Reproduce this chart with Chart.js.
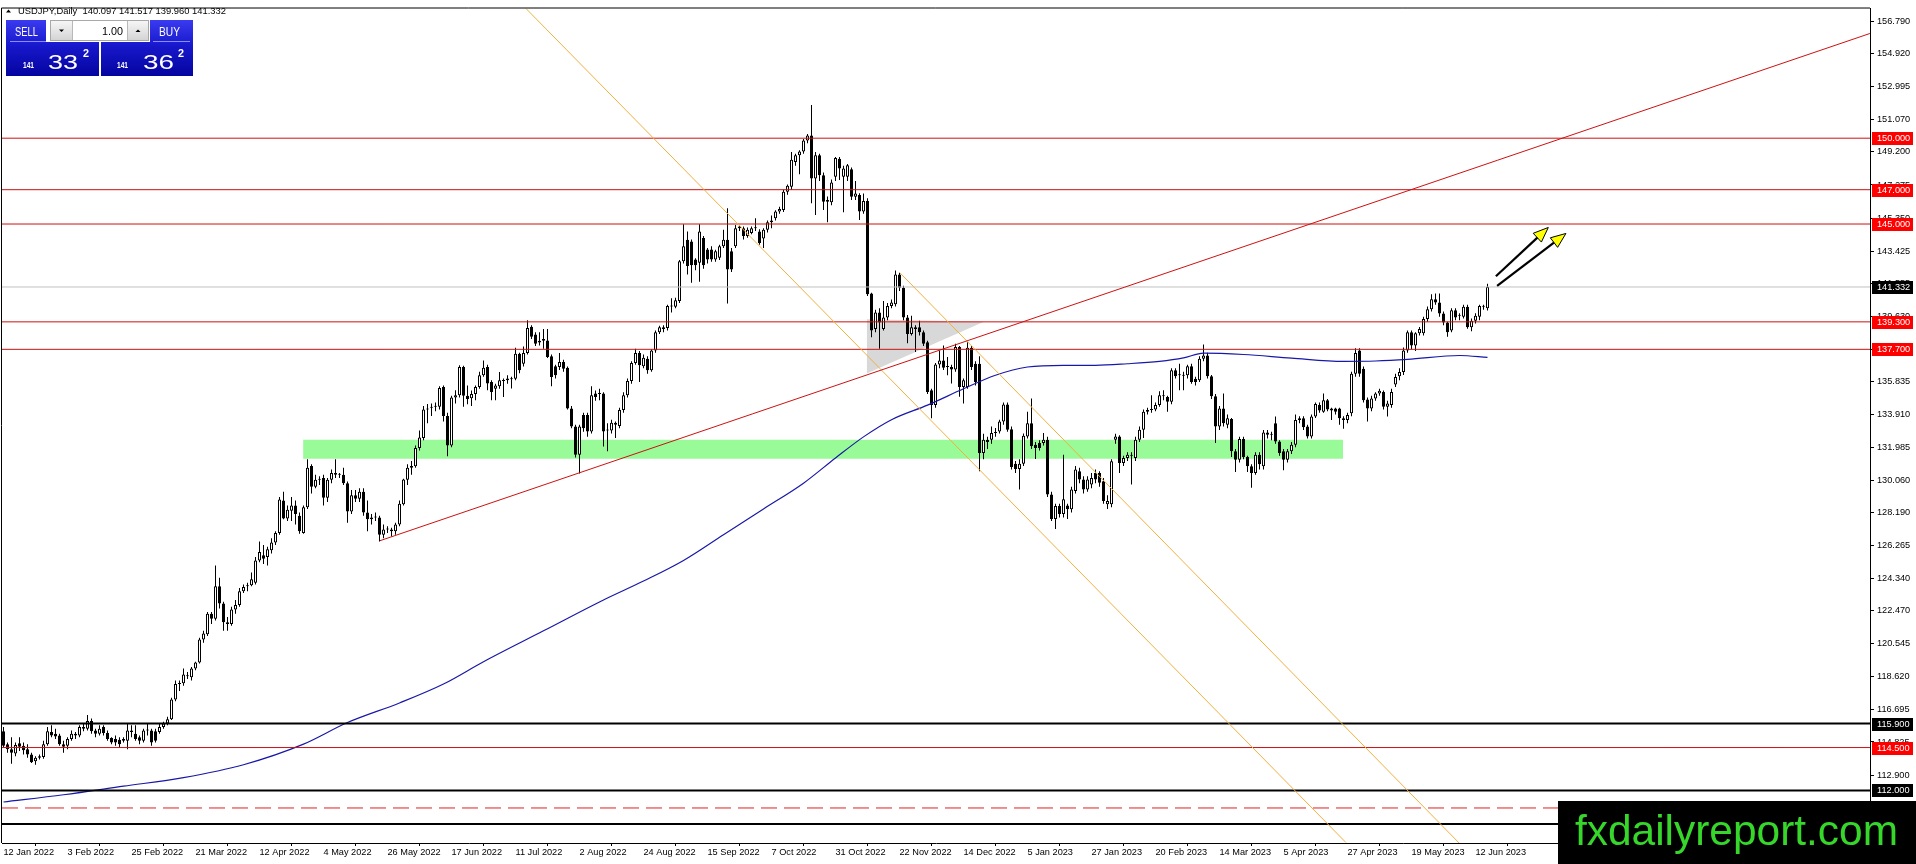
<!DOCTYPE html>
<html>
<head>
<meta charset="utf-8">
<title>USDJPY Daily</title>
<script src="https://cdn.jsdelivr.net/npm/chart.js@4.4.0/dist/chart.umd.min.js"></script>
<style>
  html, body { margin: 0; padding: 0; background: #fff; overflow: hidden; }
  #contenedor { width: 1916px; height: 864px; position: relative; }
</style>
</head>
<body>
<div id="contenedor"><canvas id="grafico"></canvas></div>
<script>
// Etiquetas del eje de tiempo (una cada 16 velas)
const etiquetasFecha = ['12 Jan 2022', '3 Feb 2022', '25 Feb 2022', '21 Mar 2022', '12 Apr 2022', '4 May 2022',
  '26 May 2022', '17 Jun 2022', '11 Jul 2022', '2 Aug 2022', '24 Aug 2022', '15 Sep 2022', '7 Oct 2022',
  '31 Oct 2022', '22 Nov 2022', '14 Dec 2022', '5 Jan 2023', '27 Jan 2023', '20 Feb 2023', '14 Mar 2023',
  '5 Apr 2023', '27 Apr 2023', '19 May 2023', '12 Jun 2023'];
const posEtiquetas = [0, 16, 32, 48, 64, 80, 96, 112, 128, 144, 160, 176, 192, 208, 224, 240, 256, 272, 288, 304, 320, 336, 352, 368];

// Ticks del eje de precios
const ticksPrecio = [156.790, 154.920, 152.995, 151.070, 149.200, 147.275, 145.350, 143.425, 141.555, 139.630,
  137.705, 135.835, 133.910, 131.985, 130.060, 128.190, 126.265, 124.340, 122.470, 120.545, 118.620, 116.695,
  114.825, 112.900, 110.975, 109.050];

// Velas diarias USDJPY
const aperturas = [
  115.45, 114.7, 114.4, 114.15, 114.75, 114.6, 114.4, 114.1, 113.7, 113.9,
  113.95, 114.7, 115.4, 115.3, 115.2, 114.7, 114.6, 115.0, 115.2, 115.2,
  115.7, 115.6, 116.05, 115.5, 115.3, 115.7, 115.35, 115.05, 115.0, 114.95,
  114.9, 114.9, 115.5, 115.3, 115.1, 114.9, 115.5, 115.5, 115.45, 115.4,
  115.7, 115.9, 116.15, 117.3, 118.2, 118.25, 118.7, 118.6, 119.1, 119.45,
  120.8, 121.1, 122.3, 122.0, 123.9, 122.9, 121.8, 121.7, 122.55, 122.8,
  123.6, 123.9, 123.95, 124.1, 125.4, 125.7, 125.6, 126.0, 126.45, 127.0,
  128.9, 127.85, 128.3, 128.6, 128.0, 127.0, 128.5, 130.9, 129.7, 130.1,
  130.2, 129.05, 130.1, 130.5, 130.4, 130.4, 129.9, 128.25, 129.2, 129.0,
  129.4, 128.2, 127.9, 127.9, 127.9, 126.9, 127.2, 127.2, 127.1, 127.5,
  128.67, 130.1, 130.8, 130.89, 131.95, 132.53, 134.2, 134.3, 134.36, 134.36,
  135.51, 133.82, 132.1, 134.9, 135.03, 136.67, 135.0, 134.85, 135.1, 135.5,
  136.19, 136.67, 135.8, 135.4, 135.55, 135.9, 135.9, 136.0, 135.99, 137.44,
  136.86, 137.48, 139.02, 138.56, 138.1, 138.2, 138.21, 137.29, 136.71, 136.67,
  136.96, 136.63, 134.26, 133.2, 131.56, 133.87, 133.87, 132.91, 135.13, 135.1,
  135.13, 132.97, 132.97, 133.43, 133.24, 134.16, 135.03, 135.86, 136.9, 137.48,
  136.71, 137.15, 136.48, 137.63, 138.69, 138.98, 138.94, 140.23, 140.18, 140.52,
  142.83, 144.09, 143.98, 142.93, 142.74, 144.18, 143.51, 143.51, 142.93, 143.03,
  143.7, 144.09, 143.41, 143.7, 144.76, 144.76, 144.3, 144.47, 144.76, 144.57,
  144.15, 144.67, 145.1, 145.34, 145.73, 145.82, 146.88, 147.17, 148.62, 149.0,
  149.23, 149.87, 150.16, 147.65, 149.0, 147.84, 146.3, 146.27, 147.75, 148.81,
  147.75, 147.75, 148.19, 146.59, 146.69, 145.73, 146.34, 140.95, 138.89, 139.85,
  138.89, 139.56, 140.23, 140.33, 142.06, 141.29, 139.56, 138.6, 138.98, 138.98,
  138.69, 138.11, 135.32, 134.45, 136.82, 137.05, 136.67, 136.67, 136.53, 137.83,
  135.51, 135.51, 137.79, 136.86, 136.86, 131.66, 132.43, 132.43, 132.82, 132.91,
  133.49, 134.49, 133.05, 131.04, 130.73, 131.04, 132.62, 133.39, 132.14, 132.24,
  132.24, 132.43, 129.25, 127.81, 128.58, 128.1, 128.6, 128.38, 129.44, 130.6,
  130.12, 129.54, 129.83, 130.5, 130.5, 130.02, 128.67, 128.67, 132.43, 132.62,
  131.08, 131.37, 131.56, 131.37, 132.43, 133.01, 134.07, 134.17, 134.2, 134.45,
  134.97, 134.93, 134.65, 136.48, 136.19, 136.19, 136.19, 136.71, 135.99, 135.9,
  137.15, 137.34, 136.13, 134.97, 133.2, 134.26, 133.3, 133.64, 131.76, 131.27,
  132.47, 131.43, 130.89, 130.5, 131.56, 130.89, 132.85, 132.72, 133.39, 132.33,
  131.76, 131.27, 131.76, 132.14, 133.59, 133.68, 133.2, 132.62, 133.78, 134.45,
  134.07, 134.74, 134.26, 134.26, 134.26, 133.68, 133.59, 133.97, 136.28, 137.63,
  136.57, 134.78, 134.26, 134.84, 135.13, 135.22, 134.36, 134.45, 135.65, 136.13,
  136.38, 137.63, 138.69, 137.92, 138.63, 138.63, 139.46, 140.04, 140.62, 140.43,
  139.79, 139.27, 138.79, 139.98, 139.66, 139.6, 140.18, 138.98, 139.37, 139.6,
  140.23, 140.097];
const maximos = [
  115.7, 114.8, 115.1, 114.8, 115.1, 114.8, 114.7, 114.2, 114.0, 114.1,
  114.9, 115.7, 115.8, 115.6, 115.3, 114.9, 115.1, 115.5, 115.4, 115.8,
  115.9, 116.4, 116.2, 115.6, 115.8, 115.8, 115.5, 115.1, 115.2, 115.1,
  115.1, 115.9, 115.8, 115.8, 115.2, 115.6, 115.9, 115.6, 115.6, 115.9,
  116.0, 116.3, 117.4, 118.4, 118.4, 119.1, 118.9, 119.2, 119.5, 120.9,
  121.3, 122.4, 122.4, 125.1, 124.4, 123.0, 122.1, 122.7, 123.1, 123.8,
  124.0, 124.1, 124.7, 125.6, 126.5, 126.3, 126.2, 126.7, 127.1, 129.1,
  129.4, 128.6, 129.1, 128.9, 128.2, 128.6, 131.3, 131.0, 130.4, 130.3,
  130.4, 130.2, 130.7, 131.3, 130.5, 130.8, 130.0, 129.5, 129.5, 129.6,
  129.6, 128.9, 128.1, 128.2, 128.0, 127.5, 127.4, 127.3, 127.6, 128.9,
  130.16, 131.0, 131.2, 132.1, 132.97, 134.4, 134.51, 134.55, 134.6, 135.55,
  135.6, 134.0, 135.0, 135.32, 136.77, 136.75, 135.6, 135.3, 135.6, 136.4,
  137.05, 136.8, 135.9, 135.7, 136.38, 136.0, 136.19, 136.1, 137.79, 137.5,
  137.86, 139.4, 139.1, 138.7, 138.69, 138.88, 138.88, 137.4, 136.8, 137.48,
  137.1, 136.7, 134.4, 133.3, 133.3, 134.0, 134.0, 135.55, 135.3, 135.4,
  135.2, 133.39, 133.6, 133.5, 134.3, 135.2, 136.0, 137.0, 137.73, 137.6,
  137.4, 137.3, 137.7, 138.8, 139.08, 139.1, 140.3, 140.68, 140.7, 142.9,
  144.99, 144.57, 144.1, 143.0, 144.99, 144.3, 143.6, 143.7, 143.5, 143.8,
  144.67, 145.92, 143.6, 144.95, 144.9, 144.86, 144.8, 144.86, 145.34, 144.7,
  144.76, 145.2, 145.5, 145.8, 146.0, 147.0, 147.3, 149.19, 149.1, 149.3,
  149.95, 150.25, 151.93, 149.2, 149.1, 148.0, 146.6, 147.6, 148.9, 148.9,
  148.4, 148.5, 148.3, 147.5, 146.8, 146.78, 146.5, 141.0, 140.0, 140.1,
  140.52, 140.4, 140.6, 142.29, 142.16, 141.4, 139.7, 139.66, 139.1, 139.37,
  138.8, 138.2, 135.4, 136.9, 137.63, 137.92, 137.25, 136.8, 138.02, 137.9,
  136.0, 138.11, 137.9, 137.0, 137.3, 132.78, 132.6, 133.2, 133.11, 133.6,
  134.6, 134.6, 133.2, 131.2, 131.3, 132.8, 134.07, 134.84, 132.3, 132.4,
  132.82, 132.6, 129.4, 128.7, 128.7, 131.56, 128.7, 129.7, 130.9, 130.8,
  130.3, 130.3, 130.5, 130.7, 130.6, 130.2, 129.2, 131.3, 132.78, 132.7,
  131.5, 131.7, 131.7, 132.6, 133.2, 134.2, 134.3, 135.03, 134.6, 135.26,
  135.32, 135.0, 136.6, 136.6, 136.86, 136.4, 136.8, 136.86, 136.1, 137.3,
  137.98, 137.5, 136.2, 135.1, 134.4, 135.13, 133.9, 133.7, 131.9, 132.6,
  132.6, 131.5, 131.0, 131.7, 131.7, 133.0, 133.0, 132.9, 133.78, 132.4,
  131.9, 131.9, 132.3, 133.91, 133.8, 133.8, 133.3, 133.9, 134.6, 134.6,
  135.13, 134.8, 134.3, 134.3, 134.3, 133.8, 134.0, 136.4, 137.77, 137.77,
  136.7, 134.9, 135.0, 135.2, 135.4, 135.3, 134.7, 135.4, 136.28, 136.6,
  137.8, 138.8, 138.8, 138.7, 139.0, 139.6, 140.2, 140.91, 140.95, 140.95,
  139.9, 139.3, 140.1, 140.1, 139.8, 140.3, 140.3, 139.5, 139.8, 140.3,
  140.3, 141.517];
const minimos = [
  114.5, 114.2, 113.55, 114.0, 114.3, 114.1, 113.9, 113.6, 113.5, 113.8,
  113.85, 114.6, 115.1, 115.0, 114.6, 114.2, 114.4, 114.9, 115.0, 115.1,
  115.45, 115.5, 115.3, 115.1, 115.2, 115.2, 114.9, 114.7, 114.6, 114.5,
  114.8, 114.4, 115.1, 114.9, 114.7, 114.8, 115.2, 114.6, 114.8, 115.3,
  115.6, 115.8, 116.1, 117.2, 117.8, 118.1, 118.5, 118.4, 119.0, 119.4,
  120.6, 121.0, 121.7, 121.9, 122.6, 121.3, 121.3, 121.6, 122.3, 122.7,
  123.5, 123.6, 123.9, 124.0, 125.3, 125.2, 125.1, 125.8, 126.3, 126.9,
  127.8, 127.7, 127.7, 127.5, 126.95, 126.95, 128.4, 129.3, 129.6, 129.8,
  128.6, 128.8, 129.9, 130.2, 130.2, 129.8, 127.6, 128.1, 128.8, 128.8,
  128.0, 127.1, 127.5, 127.7, 126.5, 126.7, 127.0, 126.8, 126.9, 127.4,
  128.6, 129.8, 130.4, 130.8, 131.8, 132.4, 133.39, 133.82, 134.1, 134.2,
  133.49, 131.47, 132.0, 134.55, 134.9, 134.36, 134.5, 134.4, 134.74, 135.4,
  136.1, 135.32, 134.74, 134.74, 135.4, 134.93, 135.7, 135.42, 135.9, 136.3,
  136.7, 137.4, 138.3, 137.9, 137.92, 137.73, 137.2, 135.55, 136.0, 136.5,
  136.4, 134.2, 133.1, 131.4, 130.46, 132.9, 132.6, 132.8, 134.7, 134.74,
  132.04, 131.76, 132.8, 132.53, 133.1, 134.0, 134.9, 135.7, 136.8, 135.8,
  136.6, 136.28, 136.4, 137.5, 138.6, 138.7, 138.8, 139.85, 140.1, 140.4,
  142.7, 142.06, 141.58, 142.3, 141.64, 142.4, 142.7, 142.8, 142.8, 142.9,
  143.6, 140.37, 142.2, 143.6, 144.6, 144.1, 144.2, 144.4, 144.6, 143.8,
  143.61, 144.5, 144.76, 145.2, 145.6, 145.7, 146.7, 147.0, 148.4, 147.9,
  149.1, 149.7, 146.21, 145.53, 147.5, 145.82, 145.11, 146.1, 147.5, 147.56,
  145.69, 147.5, 146.4, 146.4, 145.24, 145.6, 140.8, 138.4, 138.7, 137.73,
  138.8, 139.4, 140.1, 140.2, 141.1, 139.4, 138.06, 138.5, 137.54, 138.5,
  137.9, 135.1, 133.68, 134.3, 136.6, 136.5, 136.19, 135.71, 136.4, 134.94,
  134.55, 135.4, 136.5, 135.6, 130.6, 131.3, 131.9, 132.2, 132.6, 132.8,
  133.3, 132.9, 130.7, 130.5, 129.54, 130.9, 132.5, 131.9, 131.31, 131.8,
  132.1, 129.1, 127.7, 127.23, 127.9, 127.9, 127.81, 128.2, 129.3, 129.9,
  129.3, 129.4, 129.6, 129.9, 129.7, 128.7, 128.4, 128.5, 132.2, 130.5,
  130.9, 131.2, 129.83, 131.2, 132.3, 132.53, 133.9, 134.01, 134.1, 134.36,
  134.74, 134.07, 134.5, 136.0, 135.32, 135.32, 136.0, 135.7, 135.6, 135.8,
  137.0, 136.0, 134.8, 132.24, 133.0, 133.2, 133.1, 131.43, 130.56, 131.1,
  131.3, 130.56, 129.64, 130.4, 130.7, 130.7, 132.5, 132.4, 132.2, 131.5,
  130.66, 131.1, 131.6, 132.0, 133.4, 133.0, 132.5, 132.5, 133.7, 134.0,
  134.0, 134.1, 133.59, 133.9, 133.3, 133.07, 133.4, 133.8, 136.1, 136.1,
  134.6, 133.49, 134.1, 134.7, 135.0, 134.2, 133.78, 134.3, 135.5, 135.9,
  136.2, 137.5, 137.7, 137.6, 138.5, 138.5, 139.3, 139.9, 140.3, 139.6,
  139.1, 138.44, 138.7, 139.4, 139.4, 139.5, 138.9, 138.75, 139.2, 139.4,
  140.0, 139.96];
const cierres = [
  114.6, 114.4, 114.2, 114.65, 114.55, 114.35, 114.1, 113.65, 113.9, 114.0,
  114.7, 115.45, 115.2, 115.15, 114.7, 114.55, 115.0, 115.3, 115.3, 115.7,
  115.6, 116.05, 115.45, 115.3, 115.6, 115.35, 115.0, 114.8, 114.8, 114.7,
  115.0, 115.5, 115.4, 115.0, 114.9, 115.5, 115.55, 114.8, 114.9, 115.7,
  115.9, 116.15, 117.3, 118.2, 118.25, 118.75, 118.65, 119.1, 119.45, 120.8,
  121.15, 122.3, 122.0, 123.9, 122.9, 121.8, 121.7, 122.55, 122.8, 123.6,
  123.85, 123.95, 124.3, 125.4, 125.9, 125.5, 126.05, 126.45, 127.0, 128.95,
  127.85, 128.35, 128.6, 128.1, 127.1, 128.5, 130.8, 129.7, 130.1, 130.15,
  129.05, 130.1, 130.5, 130.4, 130.45, 129.9, 128.25, 129.2, 129.0, 129.4,
  128.2, 127.8, 127.8, 127.95, 126.9, 127.2, 127.25, 127.1, 127.5, 128.7,
  130.12, 130.8, 130.9, 131.95, 132.56, 134.2, 134.26, 134.36, 134.4, 135.45,
  133.82, 132.1, 134.9, 135.03, 136.67, 135.0, 134.8, 135.1, 135.5, 136.19,
  136.63, 135.71, 135.22, 135.6, 135.9, 135.85, 136.0, 135.95, 137.44, 136.48,
  137.48, 138.94, 138.44, 138.02, 138.2, 138.3, 137.25, 136.09, 136.19, 136.96,
  136.57, 134.26, 133.2, 131.56, 133.2, 133.1, 132.91, 135.03, 134.93, 135.13,
  132.91, 133.0, 133.43, 133.3, 134.16, 135.03, 135.86, 136.9, 137.48, 136.77,
  137.21, 136.48, 137.63, 138.69, 138.98, 138.88, 140.23, 140.2, 140.56, 142.83,
  143.7, 142.55, 142.6, 142.6, 144.57, 142.6, 142.93, 142.93, 143.41, 143.7,
  144.09, 142.35, 142.35, 144.76, 144.86, 144.3, 144.67, 144.76, 144.78, 143.89,
  144.67, 145.1, 145.2, 145.73, 145.88, 146.88, 147.23, 148.75, 149.0, 149.23,
  149.87, 150.16, 147.65, 149.0, 147.84, 146.3, 146.4, 147.42, 148.85, 148.23,
  148.23, 148.42, 146.59, 146.78, 145.73, 146.34, 140.91, 138.79, 139.85, 139.27,
  139.56, 140.23, 140.43, 142.06, 141.29, 139.56, 138.6, 138.98, 138.89, 138.69,
  138.02, 135.22, 134.45, 136.82, 137.05, 136.63, 136.7, 136.53, 137.83, 135.51,
  135.9, 137.79, 136.67, 135.8, 131.66, 132.43, 132.3, 132.82, 132.85, 133.49,
  134.49, 133.01, 130.85, 130.73, 131.04, 132.66, 133.39, 132.05, 131.95, 131.95,
  132.43, 129.25, 127.81, 128.58, 128.1, 128.96, 128.38, 129.54, 130.7, 130.12,
  129.54, 130.12, 130.21, 130.12, 129.93, 128.87, 128.87, 131.18, 132.62, 131.08,
  131.37, 131.56, 131.5, 132.43, 133.01, 134.07, 134.17, 134.16, 134.45, 135.03,
  135.0, 134.65, 136.48, 136.13, 136.22, 136.16, 136.71, 135.8, 135.8, 137.15,
  137.34, 136.13, 134.97, 133.2, 134.26, 133.39, 133.68, 131.76, 131.27, 132.47,
  131.43, 130.89, 130.5, 131.56, 131.0, 132.85, 132.72, 132.75, 132.33, 131.66,
  131.27, 131.76, 132.14, 133.59, 133.68, 133.16, 132.62, 133.78, 134.51, 134.13,
  134.74, 134.2, 134.13, 134.07, 133.68, 133.59, 133.87, 136.28, 137.48, 136.28,
  134.74, 134.26, 134.84, 135.13, 135.28, 134.36, 134.55, 135.22, 136.09, 136.38,
  137.63, 138.69, 137.92, 138.63, 138.89, 139.46, 140.04, 140.62, 140.43, 139.79,
  139.27, 138.69, 139.98, 139.56, 139.7, 140.18, 138.98, 139.37, 139.66, 140.23,
  140.18, 141.332];

// Media movil (azul): indice de vela y precio
const mediaIdx = [0, 15, 30, 45, 60, 75, 86, 99, 110, 120, 135, 150, 160, 170, 180, 190, 200, 208, 215, 222,
  231, 240, 248, 256, 265, 273, 281, 289, 295, 300, 310, 322, 335, 343, 351, 364, 371];
const mediaValor = [111.33, 111.75, 112.25, 112.75, 113.5, 114.7, 115.96, 117.1, 118.2, 119.5, 121.3, 123.1,
  124.2, 125.4, 126.9, 128.4, 129.9, 131.37, 132.6, 133.6, 134.45, 135.4, 136.19, 136.67, 136.77, 136.77,
  136.86, 137.0, 137.2, 137.48, 137.4, 137.19, 137.0, 137.02, 137.11, 137.34, 137.23];

// Niveles horizontales
const nivelesRojos = [150.0, 147.0, 145.0, 139.3, 137.7, 114.5];
const nivelesNegros = [115.9, 112.0, 110.04];
const nivelDiscontinuo = [110.98];
const precioBid = 141.332;

// Objetos dibujados: [indice, precio]
const lineaTendencia = [[94.1, 126.55], [466.6, 156.1]];
const canalSuperior = [[130.6, 157.56], [335.6, 108.97]];
const canalInferior = [[224.1, 142.16], [363.9, 108.94]];
const trianguloSup = [[215.8, 139.45], [245.1, 139.3]];
const trianguloInf = [[215.8, 136.29], [245.1, 139.3]];
const zonaIdx = [74.9, 334.9];
const zonaPrecio = [131.33, 132.43];
const flechas = [
  [[373.1, 141.96], [386.2, 144.80]],
  [[373.4, 141.39], [390.6, 144.45]]
];

const X_MIN = -0.375, X_MAX = 466.625;
const Y_MIN = 108.94, Y_MAX = 157.555;
const fuenteEje = "9.2px 'Liberation Sans', Arial, sans-serif";

document.addEventListener("DOMContentLoaded", () => {
  const n = cierres.length;
  const mechas = [], cuerpos = [], colores = [];
  for (let i = 0; i < n; i++) {
    mechas.push({ x: i, y: [minimos[i], maximos[i]] });
    cuerpos.push({ x: i, y: [aperturas[i], cierres[i]] });
    colores.push(cierres[i] >= aperturas[i] ? '#ffffff' : '#000000');
  }
  const puntos = (arr) => arr.map(p => ({ x: p[0], y: p[1] }));
  const horizontal = (v) => [{ x: X_MIN, y: v }, { x: X_MAX, y: v }];
  const linea = (data, color, ancho, extra) => Object.assign({
    type: 'line', data, borderColor: color, borderWidth: ancho, pointRadius: 0,
    fill: false, tension: 0, order: 2
  }, extra || {});

  const datasets = [
    linea([{ x: zonaIdx[0], y: zonaPrecio[1] }, { x: zonaIdx[1], y: zonaPrecio[1] }], 'rgba(0,0,0,0)', 1,
      { fill: { value: zonaPrecio[0] }, backgroundColor: '#98fb98', order: 20 }),
    linea(puntos(trianguloSup), 'rgba(0,0,0,0)', 1, { order: 19 }),
    linea(puntos(trianguloInf), 'rgba(0,0,0,0)', 1, { fill: '-1', backgroundColor: '#d8d8d8', order: 19 }),
    {
      type: 'bar', data: mechas, backgroundColor: '#000', borderWidth: 0, barThickness: 1,
      maxBarThickness: 1, grouped: false, inflateAmount: 0, order: 6
    },
    {
      type: 'bar', data: cuerpos, backgroundColor: colores, borderColor: '#000', borderWidth: 1,
      borderSkipped: false, barThickness: 3, maxBarThickness: 3, grouped: false, minBarLength: 1,
      inflateAmount: 0, order: 5
    },
    linea(mediaIdx.map((v, i) => ({ x: v, y: mediaValor[i] })), '#1818a8', 1.2,
      { cubicInterpolationMode: 'monotone', order: 4 }),
    linea(horizontal(precioBid), '#c0c0c0', 1, { order: 3 })
  ];
  nivelesRojos.forEach(v => datasets.push(linea(horizontal(v), '#cc1111', 1)));
  nivelesNegros.forEach(v => datasets.push(linea(horizontal(v), '#000000', 2)));
  nivelDiscontinuo.forEach(v => datasets.push(linea(horizontal(v), '#e02020', 1, { borderDash: [16, 7] })));
  datasets.push(linea(puntos(lineaTendencia), '#cc1111', 1, { order: 1 }));
  datasets.push(linea(puntos(canalSuperior), '#f0b040', 1, { order: 1 }));
  datasets.push(linea(puntos(canalInferior), '#f0b040', 1, { order: 1 }));

  new Chart(document.getElementById('grafico'), {
    type: 'bar',
    data: { datasets },
    options: {
      responsive: true,
      maintainAspectRatio: false,
      devicePixelRatio: 1,
      animation: false,
      events: [],
      layout: { padding: { left: 2, top: 2, right: 0, bottom: 0 } },
      plugins: { legend: { display: false }, tooltip: { enabled: false } },
      scales: {
        x: {
          type: 'linear', position: 'bottom', min: X_MIN, max: X_MAX, offset: false,
          afterFit: (s) => { s.height = 21; },
          afterBuildTicks: (s) => { s.ticks = posEtiquetas.map(v => ({ value: v })); },
          grid: { drawOnChartArea: false, drawTicks: true, tickLength: 3, color: '#000' },
          border: { display: true, color: '#000', width: 1 },
          ticks: {
            autoSkip: false, maxRotation: 0, minRotation: 0, align: 'start', padding: 1,
            color: '#000', font: { family: "'Liberation Sans', Arial, sans-serif", size: 9.2 },
            callback: (v) => etiquetasFecha[posEtiquetas.indexOf(v)]
          }
        },
        y: {
          type: 'linear', position: 'right', min: Y_MIN, max: Y_MAX,
          afterFit: (s) => { s.width = 46; },
          afterBuildTicks: (s) => { s.ticks = ticksPrecio.map(v => ({ value: v })); },
          grid: { drawOnChartArea: false, drawTicks: true, tickLength: 4, color: '#000' },
          border: { display: true, color: '#000', width: 1 },
          ticks: {
            padding: 3, color: '#000', font: { family: "'Liberation Sans', Arial, sans-serif", size: 9.2 },
            callback: (v) => v.toFixed(3)
          }
        }
      }
    },
    plugins: [pluginMT4]
  });
});

// Texto ajustado a una caja (ancho y altura de mayusculas)
function textoCaja(ctx, texto, x, base, ancho, alto, familia, peso, color) {
  const size = alto / 0.716;
  ctx.font = `${peso || 'normal'} ${size}px ${familia}`;
  const w = ctx.measureText(texto).width;
  ctx.save();
  ctx.translate(x, base);
  ctx.scale(ancho / w, 1);
  ctx.fillStyle = color;
  ctx.textAlign = 'left';
  ctx.textBaseline = 'alphabetic';
  ctx.fillText(texto, 0, 0);
  ctx.restore();
}

function dibujarFlecha(ctx, x0, y0, x1, y1) {
  const dx = x1 - x0, dy = y1 - y0, L = Math.hypot(dx, dy);
  const ux = dx / L, uy = dy / L, px = -uy, py = ux;
  const largo = 15, medio = 6;
  ctx.strokeStyle = '#000'; ctx.lineWidth = 2.2;
  ctx.beginPath(); ctx.moveTo(x0, y0); ctx.lineTo(x1 - ux * largo * 0.7, y1 - uy * largo * 0.7); ctx.stroke();
  ctx.beginPath();
  ctx.moveTo(x1, y1);
  ctx.lineTo(x1 - ux * largo + px * medio, y1 - uy * largo + py * medio);
  ctx.lineTo(x1 - ux * largo - px * medio, y1 - uy * largo - py * medio);
  ctx.closePath();
  ctx.fillStyle = '#ffff00'; ctx.fill();
  ctx.lineWidth = 1; ctx.strokeStyle = '#000'; ctx.stroke();
}

function dibujarPanel(ctx) {
  const sans = "'Liberation Sans', Arial, sans-serif";
  const g = ctx.createLinearGradient(0, 20, 0, 76);
  g.addColorStop(0, '#3a3af0'); g.addColorStop(0.45, '#1818cc'); g.addColorStop(1, '#0404a0');
  ctx.fillStyle = g;
  ctx.fillRect(6, 20, 40, 22);
  ctx.fillRect(150, 20, 43, 22);
  ctx.fillRect(6, 42, 93, 34);
  ctx.fillRect(101, 42, 92, 34);
  ctx.strokeStyle = '#8c8cf8'; ctx.lineWidth = 1;
  ctx.beginPath(); ctx.moveTo(10, 41.5); ctx.lineTo(46, 41.5); ctx.moveTo(153, 41.5); ctx.lineTo(190, 41.5); ctx.stroke();
  // selector de lote
  ctx.fillStyle = '#fff'; ctx.fillRect(50, 20, 99, 21);
  ctx.strokeStyle = '#a8a8a8'; ctx.strokeRect(50.5, 20.5, 98, 20);
  const gb = ctx.createLinearGradient(0, 21, 0, 40);
  gb.addColorStop(0, '#f6f6f6'); gb.addColorStop(1, '#d4d4d4');
  ctx.fillStyle = gb; ctx.fillRect(51, 21, 21, 19); ctx.fillRect(128, 21, 20, 19);
  ctx.strokeStyle = '#b8b8b8';
  ctx.beginPath(); ctx.moveTo(72.5, 21); ctx.lineTo(72.5, 40); ctx.moveTo(127.5, 21); ctx.lineTo(127.5, 40); ctx.stroke();
  ctx.fillStyle = '#000';
  ctx.beginPath(); ctx.moveTo(59, 29.5); ctx.lineTo(64, 29.5); ctx.lineTo(61.5, 32); ctx.closePath(); ctx.fill();
  ctx.beginPath(); ctx.moveTo(135.5, 32); ctx.lineTo(140.5, 32); ctx.lineTo(138, 29.5); ctx.closePath(); ctx.fill();
  textoCaja(ctx, '1.00', 102, 35, 21, 8, sans, 'normal', '#000');
  textoCaja(ctx, 'SELL', 15, 36, 23, 9, sans, 'normal', '#fff');
  textoCaja(ctx, 'BUY', 159, 36, 21, 9, sans, 'normal', '#fff');
  // precios
  textoCaja(ctx, '141', 23, 68, 11, 7, sans, 'bold', '#fff');
  textoCaja(ctx, '33', 48, 68.5, 30, 15, sans, 'normal', '#fff');
  textoCaja(ctx, '2', 83, 57, 6, 8, sans, 'bold', '#fff');
  textoCaja(ctx, '141', 117, 68, 11, 7, sans, 'bold', '#fff');
  textoCaja(ctx, '36', 143, 68.5, 31, 15, sans, 'normal', '#fff');
  textoCaja(ctx, '2', 178, 57, 6, 8, sans, 'bold', '#fff');
}

const pluginMT4 = {
  id: 'mt4',
  afterDraw(chart) {
    const { ctx, chartArea: area } = chart;
    const ex = chart.scales.x, ey = chart.scales.y;
    ctx.save();
    // marco
    ctx.strokeStyle = '#000'; ctx.lineWidth = 1;
    ctx.beginPath();
    ctx.moveTo(area.left - 0.5, area.bottom); ctx.lineTo(area.left - 0.5, area.top - 0.5); ctx.lineTo(area.right, area.top - 0.5);
    ctx.stroke();

    // flechas
    flechas.forEach(([a, b]) => dibujarFlecha(ctx,
      ex.getPixelForValue(a[0]), ey.getPixelForValue(a[1]),
      ex.getPixelForValue(b[0]), ey.getPixelForValue(b[1])));

    // etiquetas de niveles en el eje de precios
    ctx.font = fuenteEje; ctx.textBaseline = 'middle'; ctx.textAlign = 'left';
    const etiqueta = (v, fondo) => {
      const py = Math.round(ey.getPixelForValue(v));
      ctx.fillStyle = fondo;
      ctx.fillRect(area.right + 2, py - 6, 41, 13);
      ctx.fillStyle = '#fff';
      ctx.fillText(v.toFixed(3), area.right + 7, py + 0.5);
    };
    nivelesRojos.forEach(v => etiqueta(v, '#ff0000'));
    nivelesNegros.forEach(v => etiqueta(v, '#000000'));
    etiqueta(precioBid, '#000000');

    // cabecera
    ctx.fillStyle = '#000';
    ctx.beginPath(); ctx.moveTo(6, 12.5); ctx.lineTo(8.5, 9.5); ctx.lineTo(11, 12.5); ctx.closePath(); ctx.fill();
    textoCaja(ctx, 'USDJPY,Daily  140.097 141.517 139.960 141.332', 18, 14, 208, 6.2,
      "'Liberation Sans', Arial, sans-serif", 'normal', '#000');

    dibujarPanel(ctx);

    // marca de agua
    ctx.fillStyle = '#000';
    ctx.fillRect(1558, 801, 358, 63);
    textoCaja(ctx, 'fxdailyreport.com', 1575, 845, 323, 31, "'Liberation Sans', Arial, sans-serif", 'normal', '#36d62a');
    ctx.restore();
  }
};
</script>
</body>
</html>
